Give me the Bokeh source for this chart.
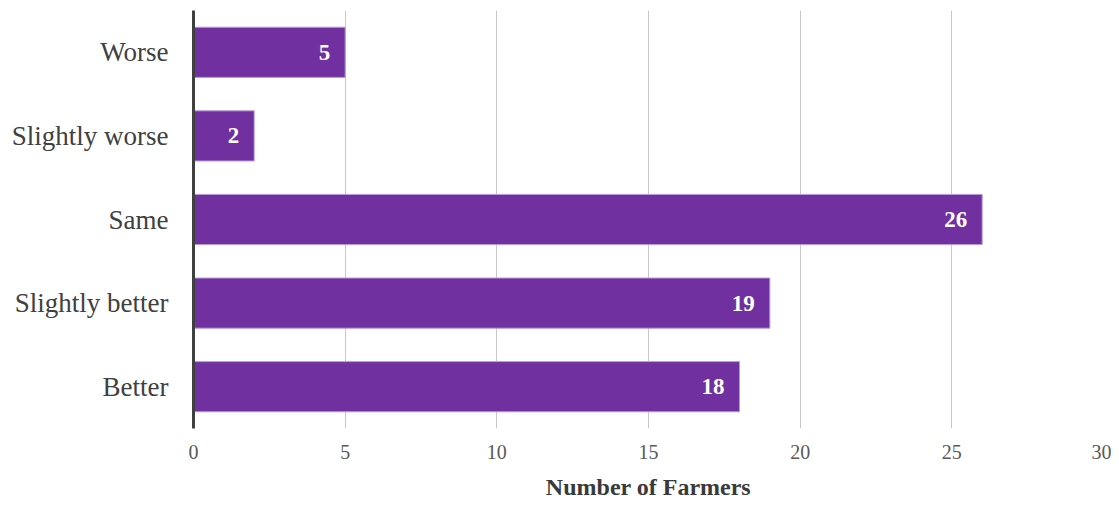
from bokeh.plotting import figure
from bokeh.models import ColumnDataSource, FactorRange, Range1d, FixedTicker
from bokeh.embed import file_html
from bokeh.resources import INLINE
from bokeh.core.properties import value

categories = ["Better", "Slightly better", "Same", "Slightly worse", "Worse"]
counts = [18, 19, 26, 2, 5]
x_ticks = [0, 5, 10, 15, 20, 25, 30]

FONT = "Liberation Serif"

src = ColumnDataSource(dict(cat=categories, n=counts, lbl=[str(c) for c in counts]))

p = figure(width=1111, height=502, output_backend="svg", toolbar_location=None,
           y_range=FactorRange(*categories, range_padding=0),
           x_range=Range1d(0, 30),
           min_border_left=193, min_border_right=8, min_border_top=10, min_border_bottom=74)
p.outline_line_color = None
p.background_fill_color = "white"

p.hbar(y="cat", right="n", left=0, height=0.6, source=src,
       fill_color="#7030A0", line_color="#B99BD3", line_width=1)

p.text(x="n", y="cat", text="lbl", source=src, x_offset=-15, text_align="right",
       text_baseline="middle", text_color="white", text_font=value(FONT),
       text_font_size="23px", text_font_style="bold")

p.ygrid.grid_line_color = None
p.xgrid.grid_line_color = "#C8C8C8"
p.xgrid.grid_line_width = 1
p.xaxis.ticker = FixedTicker(ticks=x_ticks)
p.xaxis.axis_line_color = None
p.xaxis.major_tick_line_color = None
p.xaxis.minor_tick_line_color = None
p.xaxis.major_tick_out = 0
p.xaxis.major_tick_in = 0
p.xaxis.major_label_standoff = 16
p.xaxis.major_label_text_font = FONT
p.xaxis.major_label_text_font_size = "20px"
p.xaxis.major_label_text_color = "#595959"
p.xaxis.axis_label = "Number of Farmers"
p.xaxis.axis_label_text_font = FONT
p.xaxis.axis_label_text_font_size = "24px"
p.xaxis.axis_label_text_font_style = "bold"
p.xaxis.axis_label_text_color = "#3A3A3A"
p.xaxis.axis_label_standoff = 12

p.yaxis.axis_line_color = "#404040"
p.yaxis.axis_line_width = 3
p.yaxis.major_tick_line_color = None
p.yaxis.minor_tick_line_color = None
p.yaxis.major_tick_out = 0
p.yaxis.major_tick_in = 0
p.yaxis.major_label_standoff = 25
p.yaxis.major_label_text_font = FONT
p.yaxis.major_label_text_font_size = "27px"
p.yaxis.major_label_text_color = "#404040"

open("out.html", "w").write(file_html(p, INLINE))
